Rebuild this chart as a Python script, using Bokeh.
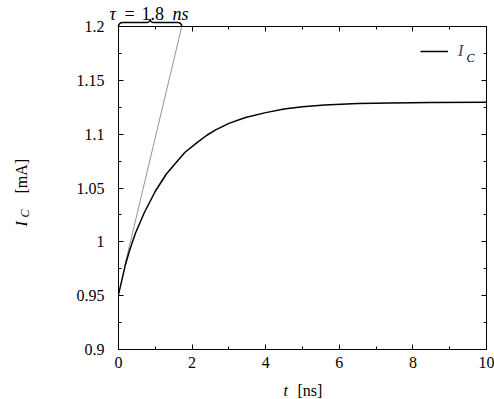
import math
from bokeh.plotting import figure
from bokeh.models import Range1d, LinearAxis, FixedTicker, Legend, LegendItem
from bokeh.core.properties import value
from bokeh.embed import file_html
from bokeh.resources import INLINE

# ---- data ----
t_ns = [0, 0.19, 0.3, 0.46, 0.7, 1.0, 1.3, 1.55, 1.8, 2.09, 2.4, 2.64, 3.0, 3.45,
        4.0, 4.5, 5.0, 5.6, 6.5, 7.4, 8.5, 10]
i_ma = [0.951, 0.979, 0.992, 1.008, 1.027, 1.047, 1.063, 1.073, 1.083, 1.091, 1.099,
        1.104, 1.110, 1.1155, 1.120, 1.1233, 1.1255, 1.127, 1.1285, 1.129, 1.1295, 1.1297]
tangent_t = [0.17, 1.72]
tangent_i = [0.978, 1.2]
tau_span = [0.0, 1.72]
x_ticks = [0, 2, 4, 6, 8, 10]
x_minor = [1, 3, 5, 7, 9]
y_ticks = [0.9, 0.95, 1.0, 1.05, 1.1, 1.15, 1.2]
y_tick_labels = ["0.9", "0.95", "1", "1.05", "1.1", "1.15", "1.2"]
y_minor = [0.925, 0.975, 1.025, 1.075, 1.125, 1.175]

FONT = "Liberation Serif"
FS = "16px"
FS_SUB = "12px"
FS_TAU = "18px"

W, H = 494, 399
BL, BR, BT, BB = 118, 8, 26, 50
X0, X1, Y0, Y1 = 0, 10, 0.9, 1.2
FL, FR, FT, FB = BL, W - BR, BT, H - BB
sx = (FR - FL) / (X1 - X0)
sy = (FB - FT) / (Y1 - Y0)

def dx(px):
    return X0 + (px - FL) / sx

def dy(py):
    return Y0 + (FB - py) / sy

p = figure(width=W, height=H, x_range=Range1d(X0, X1), y_range=Range1d(Y0, Y1),
           output_backend="svg", toolbar_location=None,
           min_border_left=BL, min_border_right=BR, min_border_top=BT, min_border_bottom=BB)
p.xgrid.visible = False
p.ygrid.visible = False
p.outline_line_color = "black"
p.outline_line_width = 1
p.background_fill_color = "white"
p.border_fill_color = "white"

xt = FixedTicker(ticks=x_ticks, minor_ticks=x_minor)
yt = FixedTicker(ticks=y_ticks, minor_ticks=y_minor)

def style_axis(ax, show_labels):
    ax.axis_line_color = "black"
    ax.major_tick_line_color = "black"
    ax.minor_tick_line_color = "black"
    ax.major_tick_in = 5
    ax.major_tick_out = 0
    ax.minor_tick_in = 3
    ax.minor_tick_out = 0
    ax.major_label_text_font = FONT
    ax.major_label_text_font_size = FS
    ax.major_label_text_color = "black"
    if not show_labels:
        ax.major_label_text_alpha = 0
        ax.major_label_standoff = 0

xa = p.xaxis[0]
xa.ticker = xt
style_axis(xa, True)
xa.major_label_standoff = 7
ya = p.yaxis[0]
ya.ticker = yt
style_axis(ya, True)
ya.major_label_standoff = 14
ya.major_label_overrides = {v: s for v, s in zip(y_ticks, y_tick_labels)}

top = LinearAxis(ticker=FixedTicker(ticks=x_ticks, minor_ticks=x_minor))
style_axis(top, False)
top.major_label_overrides = {v: "" for v in x_ticks}
p.add_layout(top, "above")
right = LinearAxis(ticker=FixedTicker(ticks=y_ticks, minor_ticks=y_minor))
style_axis(right, False)
right.major_label_overrides = {v: "" for v in y_ticks}
p.add_layout(right, "right")

# tangent line
p.line(tangent_t, tangent_i, line_color="#666666", line_width=0.7)
# curve
curve = p.line(t_ns, i_ma, line_color="black", line_width=1.5)

# brace above plot (pixel-shaped geometry)
r1 = 4.0
r2 = 3.5
xa0 = tau_span[0] * sx + FL
xa1 = tau_span[1] * sx + FL
xm = (xa0 + xa1) / 2
body = FT - r1
bx, by = [], []
def arc(cx, cy, r, th0, th1, n=10):
    for k in range(n + 1):
        th = th0 + (th1 - th0) * k / n
        bx.append(cx + r * math.cos(th))
        by.append(cy - r * math.sin(th))
arc(xa0 + r1, FT, r1, math.pi, math.pi / 2)
arc(xm - r2, body - r2, r2, -math.pi / 2, 0)
arc(xm + r2, body - r2, r2, math.pi, 3 * math.pi / 2)
arc(xa1 - r1, FT, r1, math.pi / 2, 0)
brace = p.line([dx(v) for v in bx], [dy(v) for v in by], line_color="black", line_width=1.5)
brace.level = "overlay"

def lab(text, px, py, italic=False, size=FS, align="left", baseline="alphabetic", angle=0):
    g = p.text(x=[dx(px)], y=[dy(py)], text=[text], text_font=value(FONT),
               text_font_style="italic" if italic else "normal",
               text_font_size=value(size), text_color="black",
               text_align=align, text_baseline=baseline, angle=angle)
    g.level = "overlay"

# tau label
lab("τ", 109, 13, italic=True, size=FS_TAU)
lab("=", 124, 13, size=FS_TAU)
lab("1.8", 141, 13, size=FS_TAU)
lab("ns", 172, 13, italic=True, size=FS_TAU)

# x axis label
lab("t", 283, 390, italic=True)
lab("[ns]", 297, 390)

# y axis label (rotated)
lab("I", 21, 226, italic=True, angle=math.pi / 2)
lab("C", 24, 217, italic=True, size=FS_SUB, angle=math.pi / 2)
lab("[mA]", 21, 193, angle=math.pi / 2)

# legend
leg = Legend(items=[LegendItem(label="I", renderers=[curve])],
             location=(FR - FL - 66, FB - FT - 34),
             background_fill_alpha=0, border_line_alpha=0,
             padding=0, margin=0, glyph_width=28, glyph_height=16,
             label_height=16, label_standoff=10,
             label_text_font=FONT, label_text_font_style="italic",
             label_text_font_size=FS)
p.add_layout(leg)
lab("C", 466, 57, italic=True, size=FS_SUB)

open("out.html", "w").write(file_html(p, INLINE))
